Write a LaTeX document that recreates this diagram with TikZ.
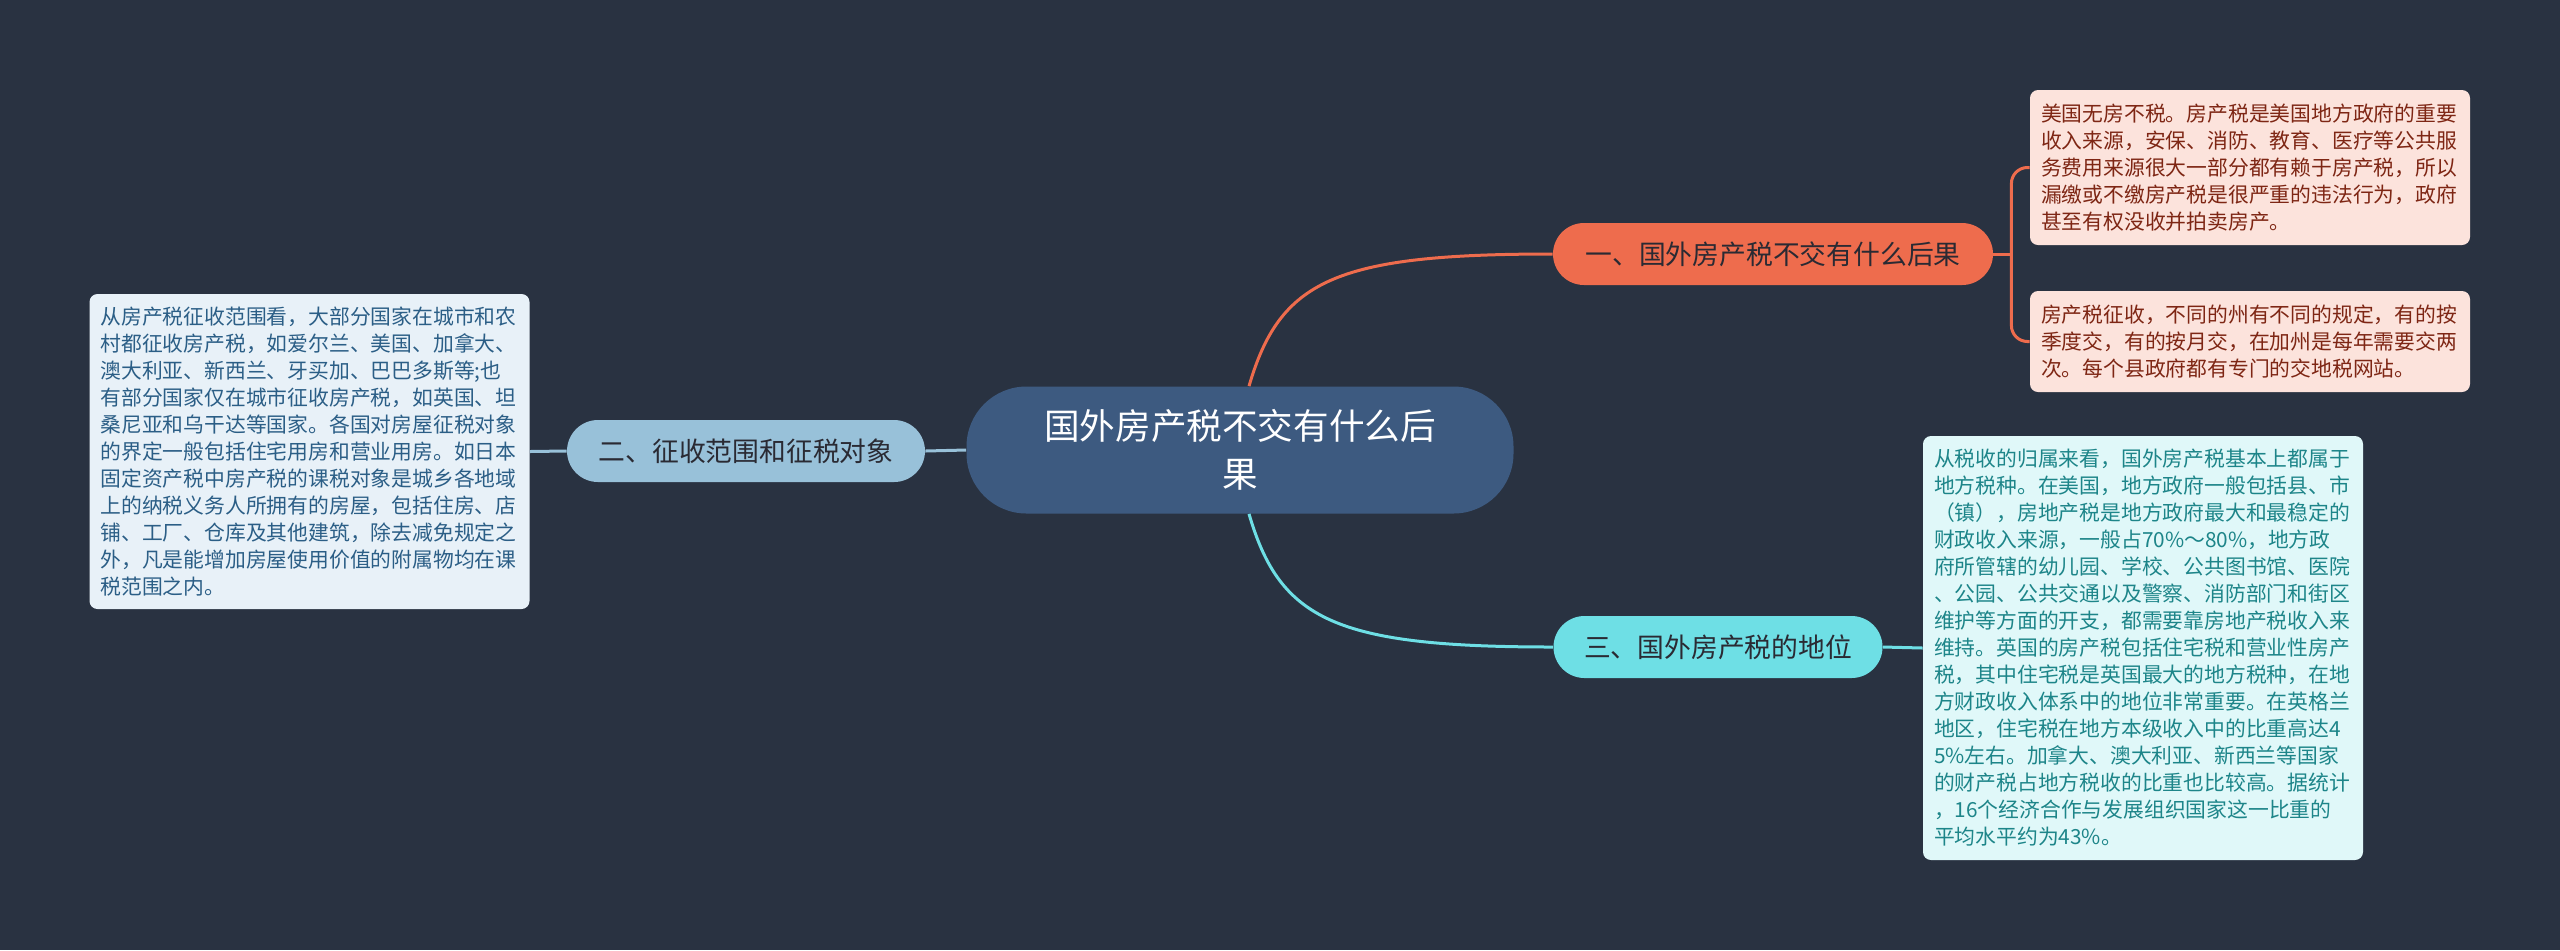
\documentclass[tikz,border=0pt]{standalone}
\usepackage{fontspec}
\newfontfamily\cjk{Noto Sans CJK SC}
\usetikzlibrary{positioning}
\definecolor{bgdark}{HTML}{293241}
\definecolor{rootblue}{HTML}{3D5A80}
\definecolor{orangeb}{HTML}{EE6C4D}
\definecolor{lightb}{HTML}{98C1D9}
\definecolor{cyanb}{HTML}{6EDFE5}
\definecolor{pinkleaf}{HTML}{FCE3DC}
\definecolor{blueleaf}{HTML}{E8F1F8}
\definecolor{cyanleaf}{HTML}{E0F8F9}
\definecolor{redtext}{HTML}{7E2614}
\definecolor{bluetext}{HTML}{2B5E86}
\definecolor{tealtext}{HTML}{1D8589}
\definecolor{darktext}{HTML}{2A2A33}
\tikzset{
  rootnode/.style={fill=rootblue, text=white, rounded corners=30pt, align=center,
    minimum width=273.5pt, minimum height=63.5pt, font=\cjk\fontsize{17.8}{24}\selectfont},
  branchnode/.style={rounded corners=15.5pt, minimum height=31pt, text=darktext,
    font=\cjk\fontsize{13.4}{16}\selectfont},
  leafnode/.style={rounded corners=4pt, inner sep=0pt, align=left, minimum width=220pt, text width=209pt,
    font=\cjk\fontsize{10.4}{13.5}\selectfont},
  link/.style={line width=1.5pt}
}
\begin{document}
\begin{tikzpicture}[x=0.5pt,y=0.5pt]
% Background and size of the page
\fill[bgdark] (0,0) rectangle (2560,-950);
\useasboundingbox (0,0) rectangle (2560,-950);

% Root of the map
\node[rootnode] (root) at (1240,-450) {国外房产税不交有什么后\\果};

% The three branches
\node[branchnode, fill=orangeb, minimum width=220pt] (b1) at (1773,-254) {一、国外房产税不交有什么后果};
\node[branchnode, fill=lightb, minimum width=179pt] (b2) at (746,-451) {二、征收范围和征税对象};
\node[branchnode, fill=cyanb, minimum width=164.5pt] (b3) at (1718,-647) {三、国外房产税的地位};

% Leaves of branch one
\node[leafnode, fill=pinkleaf, text=redtext, minimum height=77.5pt] (l1) at (2250,-167.5)
{美国无房不税。房产税是美国地方政府的重要\\
收入来源，安保、消防、教育、医疗等公共服\\
务费用来源很大一部分都有赖于房产税，所以\\
漏缴或不缴房产税是很严重的违法行为，政府\\
甚至有权没收并拍卖房产。};
\node[leafnode, fill=pinkleaf, text=redtext, minimum height=50.5pt] (l2) at (2250,-341.5)
{房产税征收，不同的州有不同的规定，有的按\\
季度交，有的按月交，在加州是每年需要交两\\
次。每个县政府都有专门的交地税网站。};

% Leaf of branch two
\node[leafnode, fill=blueleaf, text=bluetext, minimum height=157.5pt] (l3) at (309.5,-451.5)
{从房产税征收范围看，大部分国家在城市和农\\
村都征收房产税，如爱尔兰、美国、加拿大、\\
澳大利亚、新西兰、牙买加、巴巴多斯等;也\\
有部分国家仅在城市征收房产税，如英国、坦\\
桑尼亚和乌干达等国家。各国对房屋征税对象\\
的界定一般包括住宅用房和营业用房。如日本\\
固定资产税中房产税的课税对象是城乡各地域\\
上的纳税义务人所拥有的房屋，包括住房、店\\
铺、工厂、仓库及其他建筑，除去减免规定之\\
外，凡是能增加房屋使用价值的附属物均在课\\
税范围之内。};

% Leaf of branch three
\node[leafnode, fill=cyanleaf, text=tealtext, minimum height=212pt] (l4) at (2143,-648)
{从税收的归属来看，国外房产税基本上都属于\\
地方税种。在美国，地方政府一般包括县、市\\
（镇），房地产税是地方政府最大和最稳定的\\
财政收入来源，一般占70\%～80\%，地方政\\
府所管辖的幼儿园、学校、公共图书馆、医院\\
、公园、公共交通以及警察、消防部门和街区\\
维护等方面的开支，都需要靠房地产税收入来\\
维持。英国的房产税包括住宅税和营业性房产\\
税，其中住宅税是英国最大的地方税种，在地\\
方财政收入体系中的地位非常重要。在英格兰\\
地区，住宅税在地方本级收入中的比重高达4\\
5\%左右。加拿大、澳大利亚、新西兰等国家\\
的财产税占地方税收的比重也比较高。据统计\\
，16个经济合作与发展组织国家这一比重的\\
平均水平约为43\%。};

% Connectors from the root
\draw[link, orangeb] ([xshift=4.5pt]root.north) .. controls (1280,-280) and (1335,-254) .. (b1.west);
\draw[link, lightb] (root.west) -- (b2.east);
\draw[link, cyanb] ([xshift=4.5pt]root.south) .. controls (1280,-620) and (1335,-647) .. (b3.west);

% Connectors to the leaves
\draw[link, orangeb] (b1.east) -- ++(18,0) coordinate (fork1);
\draw[link, orangeb, rounded corners=8pt] (fork1) |- (l1.west);
\draw[link, orangeb, rounded corners=8pt] (fork1) |- (l2.west);
\draw[link, lightb] (b2.west) -- (l3.east);
\draw[link, cyanb] (b3.east) -- (l4.west);
\end{tikzpicture}
\end{document}
